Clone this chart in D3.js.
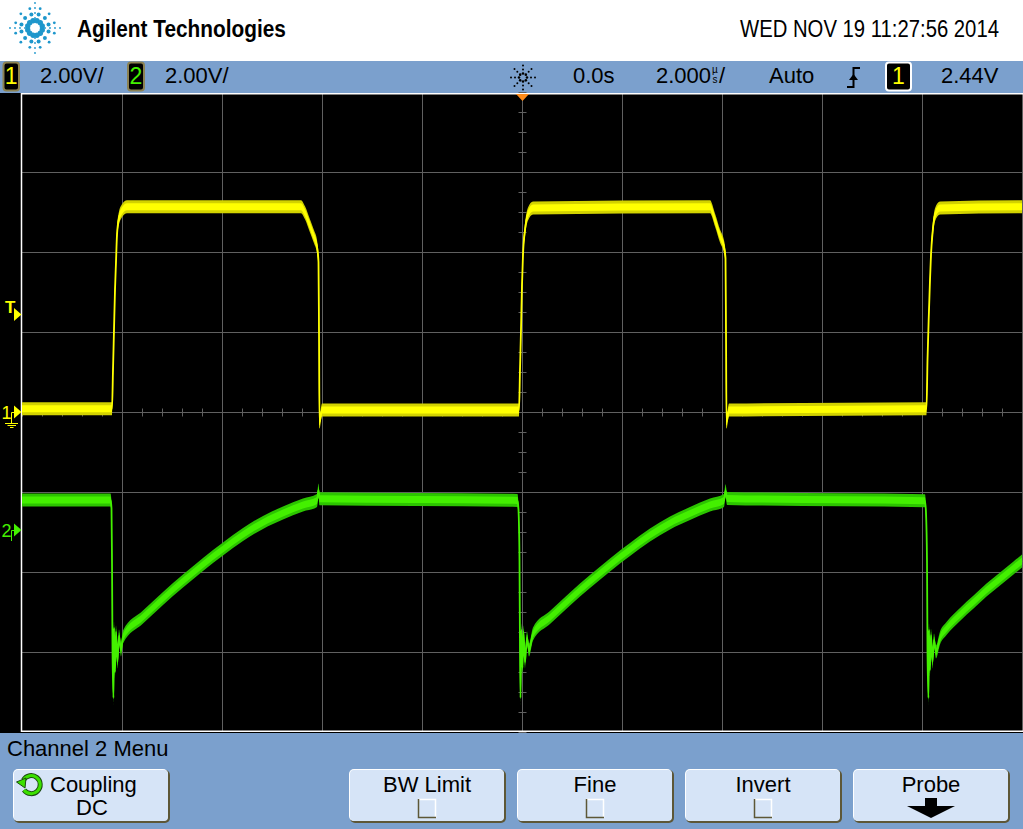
<!DOCTYPE html>
<html><head><meta charset="utf-8">
<script src="https://cdn.jsdelivr.net/npm/d3@7"></script>
<style>
html,body{margin:0;padding:0;background:#fff;overflow:hidden}
svg{display:block}
text{font-family:"Liberation Sans",Arial,sans-serif}
</style>
</head><body>
<svg id="c" width="1023" height="829"></svg>
<script>
// ---- data (time in µs, voltage in V) ----
const ch1Time  = [-10.00, -8.20, -8.18, -8.16, -8.14, -8.12, -8.10, -8.06, -8.00, -7.90, -4.42, -4.34, -4.24, -4.16, -4.10, -4.07, -4.06, -4.05, -4.00, -0.06, -0.04, -0.02, 0.00, 0.02, 0.06, 0.12, 0.22, 3.76, 3.86, 3.96, 4.04, 4.07, 4.08, 4.09, 4.14, 8.09, 8.11, 8.14, 8.16, 8.18, 8.22, 8.26, 8.36, 10.00];
const ch1Volts = [0.08, 0.08, 1.05, 2.05, 3.05, 3.75, 4.43, 4.85, 5.03, 5.13, 5.13, 4.98, 4.65, 4.38, 4.13, 3.75, 2.05, -0.25, 0.05, 0.05, 1.05, 2.05, 3.18, 3.93, 4.55, 4.95, 5.10, 5.13, 4.80, 4.40, 4.13, 3.85, 2.05, -0.25, 0.05, 0.08, 1.30, 2.55, 3.30, 3.93, 4.60, 4.93, 5.10, 5.13];
const ch2Time  = [-10.00, -8.23, -8.21, -8.20, -8.19, -8.17, -8.16, -8.14, -8.12, -8.09, -8.06, -8.02, -7.98, -7.58, -7.18, -6.78, -6.38, -5.98, -5.58, -5.18, -4.78, -4.38, -4.10, -4.07, -4.05, -0.09, -0.07, -0.05, -0.04, -0.03, -0.01, 0.01, 0.03, 0.06, 0.10, 0.14, 0.22, 0.56, 0.96, 1.36, 1.76, 2.16, 2.56, 2.96, 3.36, 3.76, 4.04, 4.07, 4.10, 8.06, 8.08, 8.10, 8.11, 8.13, 8.14, 8.16, 8.18, 8.21, 8.24, 8.28, 8.36, 8.49, 8.76, 9.03, 9.29, 9.56, 9.83, 10.00];
const ch2Volts = [0.75, 0.75, 0.55, -0.75, -3.00, -4.20, -2.45, -3.55, -2.55, -3.30, -2.65, -3.00, -2.675, -2.175, -1.71, -1.275, -0.86, -0.475, -0.11, 0.19, 0.425, 0.625, 0.74, 1.00, 0.78, 0.74, 0.50, -0.75, -3.00, -4.20, -2.50, -3.45, -2.55, -3.30, -2.70, -3.00, -2.60, -2.19, -1.725, -1.29, -0.875, -0.49, -0.125, 0.175, 0.41, 0.625, 0.74, 0.98, 0.79, 0.73, 0.43, -0.75, -3.05, -4.20, -2.50, -3.50, -2.63, -3.30, -2.75, -3.05, -2.70, -2.46, -2.11, -1.80, -1.50, -1.225, -0.95, -0.775];

const voltsPerDiv = [2, 2];          // channel 1, channel 2
const offsetDiv   = [0, -1.475];     // ground reference position, in divisions
const timeDomain  = [-10, 10];       // µs across the screen (2 µs/div)
const divDomain   = [-4, 4];

const brandText   = "Agilent Technologies";
const dateText    = "WED NOV 19 11:27:56 2014";
const chScaleText = ["2.00V/", "2.00V/"];
const delayText   = "0.0s";
const tbaseText   = "2.000";
const modeText    = "Auto";
const levelText   = "2.44V";
const menuTitle   = "Channel 2 Menu";
const softkeys    = ["Coupling", "", "BW Limit", "Fine", "Invert", "Probe"];

// ---- layout ----
const svg = d3.select("#c");
const BLUE = "#7ba0cd", FACE = "#d6e4f7", SHADOW = "#5d5737";
const YEL = "#ffff00", YEL2 = "#d2d200", GRN = "#44f000", GRN2 = "#2cc400";

const x = d3.scaleLinear().domain(timeDomain).range([22, 1022]);
const yDiv = d3.scaleLinear().domain(divDomain).range([732, 92]);

// header
svg.append("rect").attr("width", 1023).attr("height", 61).attr("fill", "#fff");
const logo = svg.append("g").attr("transform", "translate(35,28)").attr("fill", "#1e97cc");
[[7.5, 2.7], [14, 2.0], [20, 1.4]].forEach(([r, s]) => {
  for (let k = 0; k < 12; k++) {
    const a = k * Math.PI / 6 + Math.PI / 12;
    logo.append("circle").attr("cx", r * Math.cos(a)).attr("cy", r * Math.sin(a)).attr("r", s);
  }
});
[[0,1],[0,-1],[1,0],[-1,0]].forEach(([dx, dy]) => {
  [10, 15, 20, 25].forEach(r => logo.append("circle").attr("cx", dx * r).attr("cy", dy * r).attr("r", 0.9));
});
function fitText(x0, y0, size, bold, width, txt) {
  const t = svg.append("text").attr("font-size", size).attr("font-weight", bold ? "bold" : "normal").text(txt);
  const w = t.node().getComputedTextLength();
  t.attr("transform", `translate(${x0},${y0}) scale(${width / w},1)`);
  return t;
}
fitText(77, 37, 24, true, 209, brandText);
fitText(740, 37, 24, false, 259, dateText);

// status bar
svg.append("rect").attr("y", 61).attr("width", 1023).attr("height", 32).attr("fill", BLUE);
function badge(x0, w, txt, col, border) {
  svg.append("rect").attr("x", x0).attr("y", 62.5).attr("width", w).attr("height", 28).attr("rx", 3)
    .attr("fill", "#000").attr("stroke", border).attr("stroke-width", 2);
  svg.append("text").attr("x", x0 + w / 2).attr("y", 84).attr("text-anchor", "middle")
    .attr("font-size", 23).attr("fill", col).text(txt);
}
badge(3.5, 15.5, "1", YEL, "#8c8252");
badge(128, 16, "2", GRN, "#8c8252");
svg.append("text").attr("x", 40).attr("y", 83).attr("font-size", 22).text(chScaleText[0]);
svg.append("text").attr("x", 165).attr("y", 83).attr("font-size", 22).text(chScaleText[1]);
const ic = svg.append("g").attr("transform", "translate(523,77.5)").attr("fill", "#000");
for (let k = 0; k < 8; k++) {
  const a = k * Math.PI / 4;
  [4, 8, 12].forEach((r, j) => ic.append("circle").attr("cx", r * Math.cos(a)).attr("cy", r * Math.sin(a)).attr("r", j === 0 ? 1.3 : 1));
}
svg.append("text").attr("x", 573).attr("y", 83).attr("font-size", 22).text(delayText);
svg.append("text").attr("x", 656).attr("y", 83).attr("font-size", 22).text(tbaseText);
svg.append("text").attr("x", 712).attr("y", 73).attr("font-size", 10).text("µ");
svg.append("text").attr("x", 712.5).attr("y", 83).attr("font-size", 10).text("s");
svg.append("text").attr("x", 719).attr("y", 83).attr("font-size", 22).text("/");
svg.append("text").attr("x", 769).attr("y", 83).attr("font-size", 22).text(modeText);
svg.append("path").attr("d", "M847,87 H853.5 V68 H860").attr("fill", "none").attr("stroke", "#000").attr("stroke-width", 2);
svg.append("path").attr("d", "M849,80 L853.5,74 L858,80 Z").attr("fill", "#000");
svg.append("rect").attr("x", 886).attr("y", 62.5).attr("width", 25).attr("height", 28).attr("rx", 3)
  .attr("fill", "#000").attr("stroke", "#fff").attr("stroke-width", 2);
svg.append("text").attr("x", 898.5).attr("y", 84).attr("text-anchor", "middle").attr("font-size", 23).attr("fill", YEL).text("1");
svg.append("text").attr("x", 941).attr("y", 83).attr("font-size", 22).text(levelText);

// screen
svg.append("rect").attr("y", 93).attr("width", 1023).attr("height", 640).attr("fill", "#000");
const grid = svg.append("g").attr("stroke", "#606060").attr("stroke-width", 1);
d3.range(timeDomain[0] + 2, timeDomain[1] + 0.01, 2).forEach(t =>
  grid.append("line").attr("x1", x(t) + 0.5).attr("x2", x(t) + 0.5).attr("y1", 94).attr("y2", 731));
d3.range(divDomain[0] + 1, divDomain[1], 1).forEach(d =>
  grid.append("line").attr("x1", 22).attr("x2", 1023).attr("y1", yDiv(d) + 0.5).attr("y2", yDiv(d) + 0.5));
d3.range(timeDomain[0], timeDomain[1] + 0.01, 0.4).forEach(t =>
  grid.append("line").attr("x1", x(t) + 0.5).attr("x2", x(t) + 0.5).attr("y1", yDiv(0) - 3.5).attr("y2", yDiv(0) + 4.5));
d3.range(divDomain[0], divDomain[1] + 0.01, 0.25).forEach(d =>
  grid.append("line").attr("x1", x(0) - 3.5).attr("x2", x(0) + 4.5).attr("y1", yDiv(d) + 0.5).attr("y2", yDiv(d) + 0.5));
svg.append("path").attr("d", "M1023,93.8 H21.5 V731.2 H1023").attr("stroke", "#fff").attr("stroke-width", 1.5).attr("fill", "none");

// traces
svg.append("clipPath").attr("id", "scr").append("rect").attr("x", 22).attr("y", 94).attr("width", 1001).attr("height", 637);
const tg = svg.append("g").attr("clip-path", "url(#scr)");
function trace(times, volts, ch, outer, inner) {
  const pts = times.map((t, i) => [x(t), yDiv(volts[i] / voltsPerDiv[ch] + offsetDiv[ch])]);
  const band = h => d3.area().curve(d3.curveMonotoneX).x(d => d[0]).y0(d => d[1] - h).y1(d => d[1] + h);
  tg.append("path").attr("d", band(6.5)(pts)).attr("fill", outer);
  tg.append("path").attr("d", band(3.5)(pts)).attr("fill", inner);
  tg.append("path").attr("d", d3.line().curve(d3.curveMonotoneX)(pts)).attr("fill", "none").attr("stroke", inner).attr("stroke-width", 1.8);
}
trace(ch1Time, ch1Volts, 0, YEL2, YEL);
trace(ch2Time, ch2Volts, 1, GRN2, GRN);

// markers
svg.append("path").attr("d", `M${x(0) - 6},94 L${x(0) + 7},94 L${x(0) + 0.5},101 Z`).attr("fill", "#ff8c1a");
const lvl = yDiv(2.44 / voltsPerDiv[0] + offsetDiv[0]);
svg.append("text").attr("x", 5).attr("y", lvl - 1).attr("font-size", 17).attr("font-weight", "bold").attr("fill", YEL).text("T");
svg.append("path").attr("d", `M14,${lvl - 6.5} L21.5,${lvl} L14,${lvl + 6.5} Z`).attr("fill", YEL);
function gnd(ch, col, label, ground) {
  const yy = yDiv(offsetDiv[ch]);
  svg.append("text").attr("x", 1.5).attr("y", yy + 7).attr("font-size", 18).attr("fill", col).text(label);
  svg.append("path").attr("d", `M14,${yy - 6.5} L21.5,${yy} L14,${yy + 6.5} Z`).attr("fill", col);
  svg.append("path").attr("d", `M14,${yy + 0.5} H11.5 V${yy + 11}`).attr("fill", "none").attr("stroke", col).attr("stroke-width", 1);
  if (ground) {
    [[5, 18, 11.5], [7.5, 16, 13.5], [10, 13.5, 15.5]].forEach(([a, b, dy]) =>
      svg.append("line").attr("x1", a).attr("x2", b).attr("y1", yy + dy).attr("y2", yy + dy).attr("stroke", col).attr("stroke-width", 1));
  }
}
gnd(0, YEL, "1", true);
gnd(1, GRN, "2", false);

// menu bar
svg.append("rect").attr("y", 733).attr("width", 1023).attr("height", 96).attr("fill", BLUE);
svg.append("text").attr("x", 7).attr("y", 756).attr("font-size", 22).text(menuTitle);
const slot0 = 14, slotStep = 168, bw = 154, by = 770, bh = 51;
softkeys.forEach((lab, i) => {
  if (!lab) return;
  const bx = slot0 + i * slotStep;
  svg.append("rect").attr("x", bx).attr("y", by).attr("width", bw + 2).attr("height", bh + 2).attr("rx", 5).attr("fill", SHADOW);
  svg.append("rect").attr("x", bx - 1).attr("y", by - 1).attr("width", bw + 1).attr("height", bh + 1).attr("rx", 5).attr("fill", "#fff");
  svg.append("rect").attr("x", bx).attr("y", by).attr("width", bw).attr("height", bh).attr("rx", 4).attr("fill", FACE);
  const cx = bx + bw / 2;
  if (i === 0) {
    svg.append("text").attr("x", bx + 36).attr("y", 792).attr("font-size", 22).text(lab);
    svg.append("text").attr("x", cx + 1).attr("y", 815).attr("text-anchor", "middle").attr("font-size", 22).text("DC");
    const arc = "M23.5,780 A9,9 0 1 1 24,790";
    svg.append("path").attr("d", arc).attr("fill", "none").attr("stroke", "#1a4a10").attr("stroke-width", 5);
    svg.append("path").attr("d", arc).attr("fill", "none").attr("stroke", "#3ce000").attr("stroke-width", 3);
    svg.append("path").attr("d", "M16.5,782 L26,778 L25,788 Z").attr("fill", "#3ce000").attr("stroke", "#1a4a10").attr("stroke-width", 1);
  } else {
    svg.append("text").attr("x", cx).attr("y", 792).attr("text-anchor", "middle").attr("font-size", 22).text(lab);
    if (lab === "Probe") {
      svg.append("path").attr("d", `M${cx - 6},798 H${cx + 6} V806 H${cx + 24} L${cx},818 L${cx - 24},806 H${cx - 6} Z`).attr("fill", "#000");
    } else {
      svg.append("rect").attr("x", cx - 9).attr("y", 799).attr("width", 18).attr("height", 19).attr("fill", FACE);
      svg.append("path").attr("d", `M${cx - 9},799.5 H${cx + 8.5} V818`).attr("fill", "none").attr("stroke", "#fff").attr("stroke-width", 1.5);
      svg.append("path").attr("d", `M${cx - 8.5},799 V817.5 H${cx + 9}`).attr("fill", "none").attr("stroke", SHADOW).attr("stroke-width", 1.5);
    }
  }
});
</script>
</body></html>
